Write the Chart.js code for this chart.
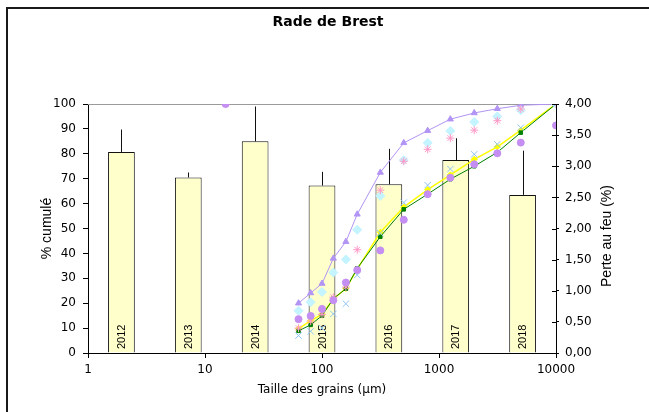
<!DOCTYPE html>
<html lang="fr">
<head>
<meta charset="utf-8">
<title>Rade de Brest</title>
<script src="https://cdn.jsdelivr.net/npm/chart.js@4.4.1/dist/chart.umd.min.js"></script>
<style>
  html, body { margin: 0; padding: 0; background: #fff; }
  #wrap { width: 649px; height: 412px; }
</style>
</head>
<body>
<div id="wrap"><canvas id="chart" width="649" height="412"></canvas></div>
<script>
'use strict';

/* --- Perte au feu (barres, axe de droite) --- */
const annees = ['2012', '2013', '2014', '2015', '2016', '2017', '2018'];
const perteAuFeu = [3.23, 2.82, 3.40, 2.69, 2.71, 3.10, 2.54];
const perteErreur = [0.36, 0.08, 0.56, 0.22, 0.57, 0.35, 0.71];

/* --- Courbes granulométriques (% cumulé, axe de gauche) --- */
const tailles = [63, 80, 100, 125, 160, 200, 315, 500, 800, 1250, 2000, 3150, 5000, 10000];
const taillesMauve = [15, 63, 80, 100, 125, 160, 200, 315, 500, 800, 1250, 2000, 3150, 5000, 10000];

const cumulViolet = [20.0, 24.1, 27.9, 38.0, 44.7, 55.7, 72.5, 84.4, 89.3, 93.9, 96.4, 98.1, 99.5, 100];
const cumulJaune  = [9.7, 13.0, 15.5, 21.7, 25.9, 33.7, 48.5, 58.6, 65.6, 71.5, 77.8, 82.8, 89.5, 100];
const cumulVert   = [8.9, 11.3, 15.0, 21.8, 25.8, 34.0, 46.7, 57.7, 63.8, 69.8, 75.0, 80.6, 88.5, 100];
const cumulCyan   = [17.0, 20.4, 24.5, 32.3, 37.6, 49.5, 63.1, 77.5, 84.4, 89.2, 92.8, 95.0, 97.5, 100];
const cumulRose   = [10.0, 12.8, 15.5, 22.4, 26.5, 41.5, 65.4, 77.0, 81.8, 86.3, 89.5, 93.3, 98.0, 100];
const cumulBleu   = [7.0, 8.7, 10.0, 15.7, 19.8, 31.3, 48.1, 60.4, 67.4, 73.9, 79.8, 83.8, 90.5, 100];
const cumulMauve  = [100, 13.6, 14.9, 17.7, 21.2, 28.3, 33.3, 41.2, 53.5, 63.8, 70.4, 75.8, 80.2, 84.5, 91.4];

const graduationsX = [1, 10, 100, 1000, 10000];

/* --- Styles --- */
const fontH = { family: '"DejaVu Sans", sans-serif', size: 12 };
const fontV = { family: '"Liberation Sans", Arial, sans-serif', size: 14 };

const pts = (xs, ys) => xs.map((x, i) => ({ x: x, y: ys[i] }));

function courbe(label, xs, ys, color, style, radius, withLine, extra) {
  return Object.assign({
    type: 'line',
    label: label,
    data: pts(xs, ys),
    xAxisID: 'x',
    yAxisID: 'y',
    showLine: withLine,
    borderColor: color,
    backgroundColor: color,
    borderWidth: 1,
    pointStyle: style,
    pointRadius: radius,
    pointBorderColor: color,
    pointBackgroundColor: color,
    pointBorderWidth: 1,
    tension: 0,
    order: 0
  }, extra || {});
}

/* --- Decor: cadre, titre, barres d'erreur, années --- */
const decor = {
  id: 'decor',
  beforeDraw(chart) {
    const ctx = chart.ctx;
    ctx.save();
    ctx.fillStyle = '#fff';
    ctx.fillRect(0, 0, chart.width, chart.height);
    ctx.strokeStyle = '#1a1a1a';
    ctx.lineWidth = 2;
    ctx.strokeRect(7, 8, 700, 500);
    ctx.restore();
  },
  beforeDatasetsDraw(chart) {
    const { ctx, chartArea } = chart;
    ctx.save();
    ctx.strokeStyle = '#9a9a9a';
    ctx.lineWidth = 1;
    ctx.beginPath();
    ctx.moveTo(chartArea.left, Math.round(chartArea.top) + 0.5);
    ctx.lineTo(chartArea.right, Math.round(chartArea.top) + 0.5);
    ctx.stroke();
    ctx.restore();
  },
  afterDatasetDraw(chart, args) {
    if (args.meta.type !== 'bar') return;
    const ctx = chart.ctx;
    const y2 = chart.scales.y2;
    ctx.save();
    args.meta.data.forEach((bar, i) => {
      const x = Math.round(bar.x) + 0.5;
      const top = y2.getPixelForValue(perteAuFeu[i] + perteErreur[i]);
      ctx.strokeStyle = '#111';
      ctx.lineWidth = 1;
      ctx.beginPath();
      ctx.moveTo(x, bar.y);
      ctx.lineTo(x, top);
      ctx.stroke();

      ctx.save();
      ctx.translate(bar.x + 0.5, chart.chartArea.bottom - 4);
      ctx.rotate(-Math.PI / 2);
      ctx.font = '11px "Liberation Sans", Arial, sans-serif';
      ctx.fillStyle = '#000';
      ctx.textAlign = 'left';
      ctx.textBaseline = 'middle';
      ctx.fillText(annees[i], 0, 0);
      ctx.restore();
    });
    ctx.restore();
  },
  afterDraw(chart) {
    const { ctx, chartArea } = chart;
    const y2 = chart.scales.y2;
    ctx.save();
    // graduations de droite qui traversent l'axe
    ctx.strokeStyle = '#000';
    ctx.lineWidth = 1;
    y2.ticks.forEach(t => {
      const y = Math.round(y2.getPixelForValue(t.value)) + 0.5;
      ctx.beginPath();
      ctx.moveTo(chartArea.right - 4, y);
      ctx.lineTo(chartArea.right, y);
      ctx.stroke();
    });

    ctx.fillStyle = '#000';
    ctx.font = 'bold 14px "DejaVu Sans", sans-serif';
    ctx.textAlign = 'center';
    ctx.textBaseline = 'middle';
    ctx.fillText('Rade de Brest', 328, 22);

    ctx.translate(607, 236);
    ctx.rotate(-Math.PI / 2);
    ctx.font = '14px "Liberation Sans", Arial, sans-serif';
    ctx.fillText('Perte au feu (%)', 0, 0);
    ctx.restore();
  }
};

new Chart(document.getElementById('chart'), {
  type: 'bar',
  data: {
    datasets: [
      courbe('Mauve', taillesMauve, cumulMauve, '#c48ef2', 'circle', 3.5, false),
      courbe('Bleu', tailles, cumulBleu, '#8ec5f5', 'crossRot', 4.5, false),
      courbe('Rose', tailles, cumulRose, '#ff99c8', 'star', 4, false),
      courbe('Cyan', tailles, cumulCyan, '#c4f4ff', 'rectRot', 4.5, false),
      courbe('Vert', tailles, cumulVert, '#008000', 'rect', 2.5, true),
      courbe('Jaune', tailles, cumulJaune, '#ffff00', 'rectRot', 3, true, { borderWidth: 1.5 }),
      courbe('Violet', tailles, cumulViolet, '#b294f4', 'triangle', 3.5, true),
      {
        type: 'bar',
        label: 'Perte au feu',
        data: perteAuFeu,
        xAxisID: 'xb',
        yAxisID: 'y2',
        backgroundColor: '#ffffcc',
        borderColor: '#111',
        borderWidth: 1,
        grouped: false,
        categoryPercentage: 1,
        barPercentage: 0.4,
        order: 10
      }
    ]
  },
  options: {
    responsive: false,
    animation: false,
    devicePixelRatio: 1,
    layout: { padding: { left: 35, right: 0, top: 104, bottom: 11 } },
    plugins: {
      legend: { display: false },
      tooltip: { enabled: false },
      title: { display: false }
    },
    scales: {
      x: {
        type: 'logarithmic',
        position: 'bottom',
        min: 1,
        max: 10000,
        offset: false,
        grid: { drawOnChartArea: false, offset: false, tickLength: 5, color: '#000' },
        border: { color: '#000' },
        afterBuildTicks: s => { s.ticks = graduationsX.map(v => ({ value: v })); },
        afterFit: s => { s.height = 48; },
        ticks: { autoSkip: false, maxRotation: 0, padding: 5, color: '#000', font: fontH, callback: v => String(v) },
        title: { display: true, text: 'Taille des grains (µm)', color: '#000', font: fontH, padding: { top: 0, bottom: 4 } }
      },
      xb: {
        type: 'category',
        labels: annees,
        offset: true,
        display: false,
        grid: { offset: true }
      },
      y: {
        type: 'linear',
        position: 'left',
        min: 0,
        max: 100,
        grid: { drawOnChartArea: false, tickLength: 5, color: '#000' },
        border: { color: '#000' },
        afterFit: s => { s.width = 53; },
        ticks: { stepSize: 10, padding: 7, color: '#000', font: fontH },
        title: { display: true, text: '% cumulé', color: '#000', font: fontV, padding: { top: 4, bottom: 0 } }
      },
      y2: {
        type: 'linear',
        position: 'right',
        min: 0,
        max: 4,
        grid: { drawOnChartArea: false, tickLength: 3, color: '#000' },
        border: { color: '#000' },
        afterFit: s => { s.width = 93; },
        ticks: { stepSize: 0.5, padding: 6, color: '#000', font: fontH, callback: v => v.toFixed(2).replace('.', ',') }
      }
    }
  },
  plugins: [decor]
});
</script>
</body>
</html>
